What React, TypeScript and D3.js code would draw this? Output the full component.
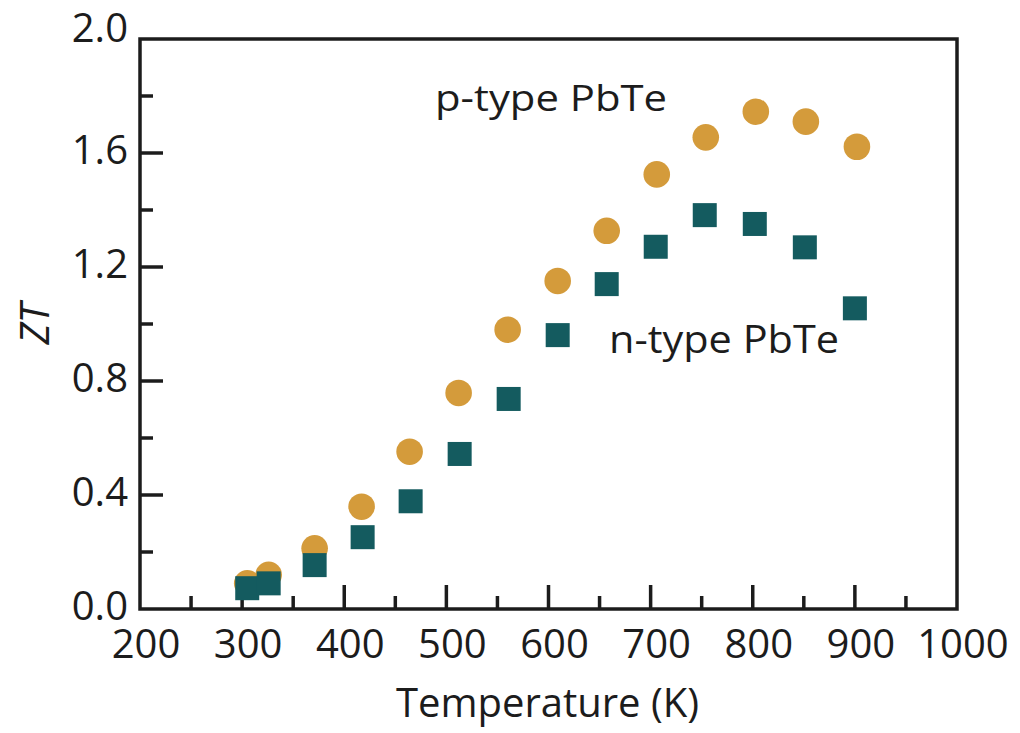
import React from "react";
import * as d3 from "d3";

const pTypeT = [305, 326, 371, 417, 464, 512, 560, 609, 657, 706, 754, 803, 852, 902];
const pTypeZT = [0.09, 0.12, 0.213, 0.359, 0.552, 0.758, 0.98, 1.151, 1.327, 1.525, 1.655, 1.745, 1.71, 1.622];
const nTypeT = [305, 326, 371, 418, 465, 513, 561, 609, 657, 705, 753, 802, 851, 900];
const nTypeZT = [0.073, 0.09, 0.154, 0.252, 0.378, 0.544, 0.737, 0.961, 1.14, 1.271, 1.382, 1.351, 1.269, 1.055];
const xMajorTicks = [200, 300, 400, 500, 600, 700, 800, 900, 1000];
const xMinorTicks = [250, 350, 450, 550, 650, 750, 850, 950];
const yMajorTicks = [0.0, 0.4, 0.8, 1.2, 1.6, 2.0];
const yMinorTicks = [0.2, 0.6, 1.0, 1.4, 1.8];
const pLabel = "p-type PbTe";
const nLabel = "n-type PbTe";

const W = 1020;
const H = 733;
const L = 140, R = 957, T = 39, B = 609;
const FONT = "'Open Sans', 'Noto Sans', sans-serif";
const ORANGE = "#D49B3B";
const TEAL = "#145B5F";
const INK = "#1c1c1c";

export default function App() {
  const x = d3.scaleLinear().domain([200, 1000]).range([L, R]);
  const y = d3.scaleLinear().domain([0, 2]).range([B, T]);
  const sq = 24;
  const r = 13.3;
  const fmt = d3.format(".1f");
  return (
    <svg width={W} height={H} style={{ position: "absolute", left: 0, top: 0, background: "#fff" }}>
      <rect x={0} y={0} width={W} height={H} fill="#fff" />
      {/* ticks */}
      {xMajorTicks.filter((t) => t > 200 && t < 1000).map((t) => (
        <line key={"xM" + t} x1={x(t)} x2={x(t)} y1={B} y2={B - 24} stroke={INK} strokeWidth={3.5} />
      ))}
      {xMinorTicks.map((t) => (
        <line key={"xm" + t} x1={x(t)} x2={x(t)} y1={B} y2={B - 13} stroke={INK} strokeWidth={3.5} />
      ))}
      {yMajorTicks.filter((t) => t > 0 && t < 2).map((t) => (
        <line key={"yM" + t} x1={L} x2={L + 23} y1={y(t)} y2={y(t)} stroke={INK} strokeWidth={3.5} />
      ))}
      {yMinorTicks.map((t) => (
        <line key={"ym" + t} x1={L} x2={L + 13} y1={y(t)} y2={y(t)} stroke={INK} strokeWidth={3.5} />
      ))}
      <rect x={L} y={T} width={R - L} height={B - T} fill="none" stroke={INK} strokeWidth={3.5} />
      {/* tick labels */}
      {xMajorTicks.map((t) => (
        <text key={"xl" + t} x={x(t) + 6} y={658} textAnchor="middle" fontFamily={FONT} fontSize={40} fill={INK}>
          {t}
        </text>
      ))}
      {yMajorTicks.map((t) => (
        <text key={"yl" + t} x={128} y={t === 2 ? 42 : y(t) + 11} textAnchor="end" fontFamily={FONT} fontSize={40} fill={INK}>
          {fmt(t)}
        </text>
      ))}
      {/* axis titles */}
      <text x={547.5} y={717} textAnchor="middle" fontFamily={FONT} fontSize={40} fill={INK}>
        Temperature (K)
      </text>
      <text
        transform={`translate(49,324) rotate(-90)`}
        textAnchor="middle"
        fontFamily={FONT}
        fontSize={40}
        fontStyle="italic"
        fill={INK}
      >
        ZT
      </text>
      {/* markers */}
      {pTypeT.map((t, i) => (
        <circle key={"p" + i} cx={x(t)} cy={y(pTypeZT[i])} r={r} fill={ORANGE} />
      ))}
      {nTypeT.map((t, i) => (
        <rect key={"n" + i} x={x(t) - sq / 2} y={y(nTypeZT[i]) - sq / 2} width={sq} height={sq} fill={TEAL} />
      ))}
      {/* series labels */}
      <text x={435} y={111} fontFamily={FONT} fontSize={37} fill={INK} textLength={232} lengthAdjust="spacingAndGlyphs">
        {pLabel}
      </text>
      <text x={609} y={353} fontFamily={FONT} fontSize={38} fill={INK} textLength={230} lengthAdjust="spacingAndGlyphs">
        {nLabel}
      </text>
    </svg>
  );
}
